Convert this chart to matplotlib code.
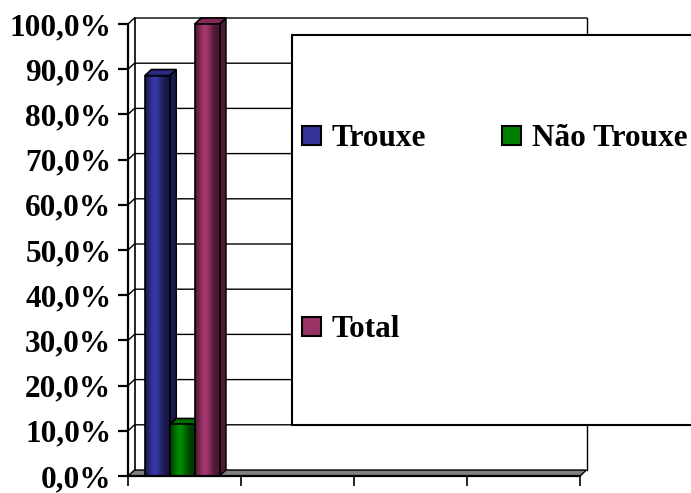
import numpy as np
import matplotlib.pyplot as plt
from matplotlib.patches import Polygon, Rectangle
from matplotlib.colors import to_rgb

# dados
series = ["Trouxe", "Não Trouxe", "Total"]
valores = [88.6, 11.4, 100.0]
cores = ["#333399", "#008000", "#993366"]
yticks = [0, 10, 20, 30, 40, 50, 60, 70, 80, 90, 100]
ylabels = ["%.1f%%" % v for v in yticks]
ylabels = [s.replace(".", ",") for s in ylabels]
n_cat = 4

fonte = dict(family="Liberation Serif", weight="bold", size=22.5)

W, H = 691, 493
fig = plt.figure(figsize=(W / 100, H / 100), dpi=100)
ax = fig.add_axes([128 / W, 17 / H, 452 / W, 452 / H])
ax.set_xlim(0, n_cat)
ax.set_ylim(0, 100)

# profundidade 3D (em unidades de dados)
dx = 6.5 / 113
dy = 6 / 4.52


def escurecer(c, f):
    r, g, b = to_rgb(c)
    return (min(r * f, 1), min(g * f, 1), min(b * f, 1))


def gradiente(c, n=40):
    t = np.linspace(0, 1, n)
    f = 0.45 + 0.65 * np.exp(-((t - 0.4) / 0.28) ** 2)
    return np.array([[escurecer(c, k) for k in f]])


# paredes e grade
chao = Polygon([(0, 0), (n_cat, 0), (n_cat + dx, dy), (dx, dy)], closed=True,
               facecolor="#808080", edgecolor="black", lw=1, clip_on=False, zorder=1)
ax.add_patch(chao)
for y in yticks[1:]:
    ax.plot([0, dx, n_cat + dx], [y, y + dy, y + dy], color="black", lw=1,
            clip_on=False, zorder=1)
ax.plot([dx, dx], [dy, 100 + dy], color="black", lw=1.2, clip_on=False, zorder=1)
ax.plot([n_cat + dx, n_cat + dx], [dy, 100 + dy], color="black", lw=1,
        clip_on=False, zorder=1)

# barras
larg = 0.22
pos = [0.26, 0.48, 0.70]
for i, (x, v, c) in enumerate(zip(pos, valores, cores)):
    x0, x1 = x - larg / 2, x + larg / 2
    z = 3 + i
    lado = Polygon([(x1, 0), (x1 + dx, dy), (x1 + dx, v + dy), (x1, v)], closed=True,
                   facecolor=escurecer(c, 0.5), edgecolor="black", lw=1,
                   clip_on=False, zorder=z)
    topo = Polygon([(x0, v), (x1, v), (x1 + dx, v + dy), (x0 + dx, v + dy)], closed=True,
                   facecolor=escurecer(c, 0.85), edgecolor="black", lw=1.2,
                   clip_on=False, zorder=z)
    ax.add_patch(lado)
    ax.add_patch(topo)
    ax.imshow(gradiente(c), extent=(x0, x1, 0, v), aspect="auto",
              interpolation="bilinear", zorder=z + 0.1, clip_on=False)
    ax.add_patch(Rectangle((x0, 0), larg, v, facecolor="none", edgecolor="black",
                           lw=1.2, zorder=z + 0.2, clip_on=False))
ax.set_xlim(0, n_cat)
ax.set_ylim(0, 100)

# eixos
for s in ["top", "right"]:
    ax.spines[s].set_visible(False)
ax.spines["left"].set_linewidth(1.6)
ax.spines["bottom"].set_linewidth(1.6)
ax.spines["left"].set_zorder(10)
ax.spines["bottom"].set_zorder(10)
ax.set_yticks(yticks)
ax.set_yticklabels(ylabels, fontdict=fonte)
ax.set_xticks(range(n_cat + 1))
ax.set_xticklabels([])
ax.tick_params(axis="y", direction="out", length=7, width=1.6, pad=5)
ax.tick_params(axis="x", direction="out", length=7, width=1.2)
ax.set_facecolor("none")

# legenda
fig.add_artist(Rectangle((292 / W, 1 - 425 / H), 420 / W, 390 / H,
                         transform=fig.transFigure, facecolor="white",
                         edgecolor="black", lw=1.5, zorder=20))
itens = [(302, 136), (502, 136), (302, 327)]
for (px, py), nome, c in zip(itens, series, cores):
    fig.add_artist(Rectangle((px / W, 1 - (py + 9) / H), 19 / W, 19 / H,
                             transform=fig.transFigure, facecolor=c,
                             edgecolor="black", lw=1.5, zorder=21))
    fig.text((px + 30) / W, 1 - (py + 10) / H, nome, va="baseline", ha="left",
             zorder=22, **fonte)

fig.savefig("out.png", dpi=100)
